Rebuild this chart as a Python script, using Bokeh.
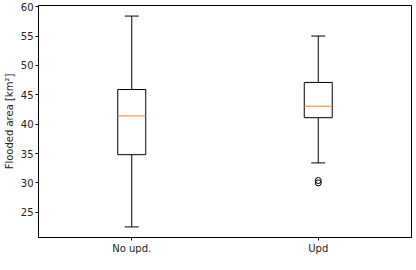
from bokeh.plotting import figure
from bokeh.models import FixedTicker, ColumnDataSource
from bokeh.embed import file_html
from bokeh.resources import INLINE

categories = ["No upd.", "Upd"]
positions = [1, 2]
lower_whisker = [22.5, 33.4]
q1 = [34.8, 41.1]
median = [41.4, 43.05]
q3 = [45.9, 47.1]
upper_whisker = [58.4, 55.0]
outlier_x = [2, 2]
outlier_y = [30.4, 30.0]
y_ticks = [25, 30, 35, 40, 45, 50, 55, 60]

box_w = 0.15
cap_w = 0.075

p = figure(width=416, height=270, output_backend="svg", toolbar_location=None,
           x_range=(0.5, 2.5), y_range=(20.7, 60.2),
           frame_width=373, frame_height=232,
           min_border_left=38, min_border_right=5, min_border_top=5, min_border_bottom=33)
p.xgrid.visible = False
p.ygrid.visible = False
p.outline_line_color = "black"
p.outline_line_width = 1
p.background_fill_color = "white"
p.border_fill_color = "white"

src = ColumnDataSource(dict(
    x=positions, lo=lower_whisker, q1=q1, med=median, q3=q3, hi=upper_whisker,
    left=[x - box_w / 2 for x in positions], right=[x + box_w / 2 for x in positions],
    cl=[x - cap_w / 2 for x in positions], cr=[x + cap_w / 2 for x in positions],
))

# whiskers
p.segment(x0="x", y0="q3", x1="x", y1="hi", source=src, line_color="black", line_width=1)
p.segment(x0="x", y0="lo", x1="x", y1="q1", source=src, line_color="black", line_width=1)
# caps
p.segment(x0="cl", y0="hi", x1="cr", y1="hi", source=src, line_color="black", line_width=1)
p.segment(x0="cl", y0="lo", x1="cr", y1="lo", source=src, line_color="black", line_width=1)
# boxes
p.quad(left="left", right="right", bottom="q1", top="q3", source=src,
       fill_color=None, line_color="black", line_width=1)
# medians
p.segment(x0="left", y0="med", x1="right", y1="med", source=src, line_color="#ff7f0e", line_width=1)
# outliers
p.scatter(x=outlier_x, y=outlier_y, marker="circle", size=6, fill_color=None,
          line_color="black", line_width=1)

font = "DejaVu Sans"
p.xaxis.ticker = FixedTicker(ticks=positions)
p.xaxis.major_label_overrides = {pos: c for pos, c in zip(positions, categories)}
p.yaxis.ticker = FixedTicker(ticks=y_ticks)
p.yaxis.axis_label = "Flooded area [km²]"

for ax in (p.xaxis[0], p.yaxis[0]):
    ax.axis_line_color = "black"
    ax.major_tick_line_color = "black"
    ax.major_tick_out = 3
    ax.major_tick_in = 0
    ax.minor_tick_line_color = None
    ax.major_label_text_font = font
    ax.major_label_text_font_size = "10px"
    ax.major_label_text_color = "#222222"
    ax.major_label_standoff = 2
    ax.axis_label_text_font = font
    ax.axis_label_text_font_size = "10px"
    ax.axis_label_text_font_style = "normal"
    ax.axis_label_text_color = "#222222"
    ax.axis_label_standoff = 3

open("out.html", "w").write(file_html(p, INLINE))
